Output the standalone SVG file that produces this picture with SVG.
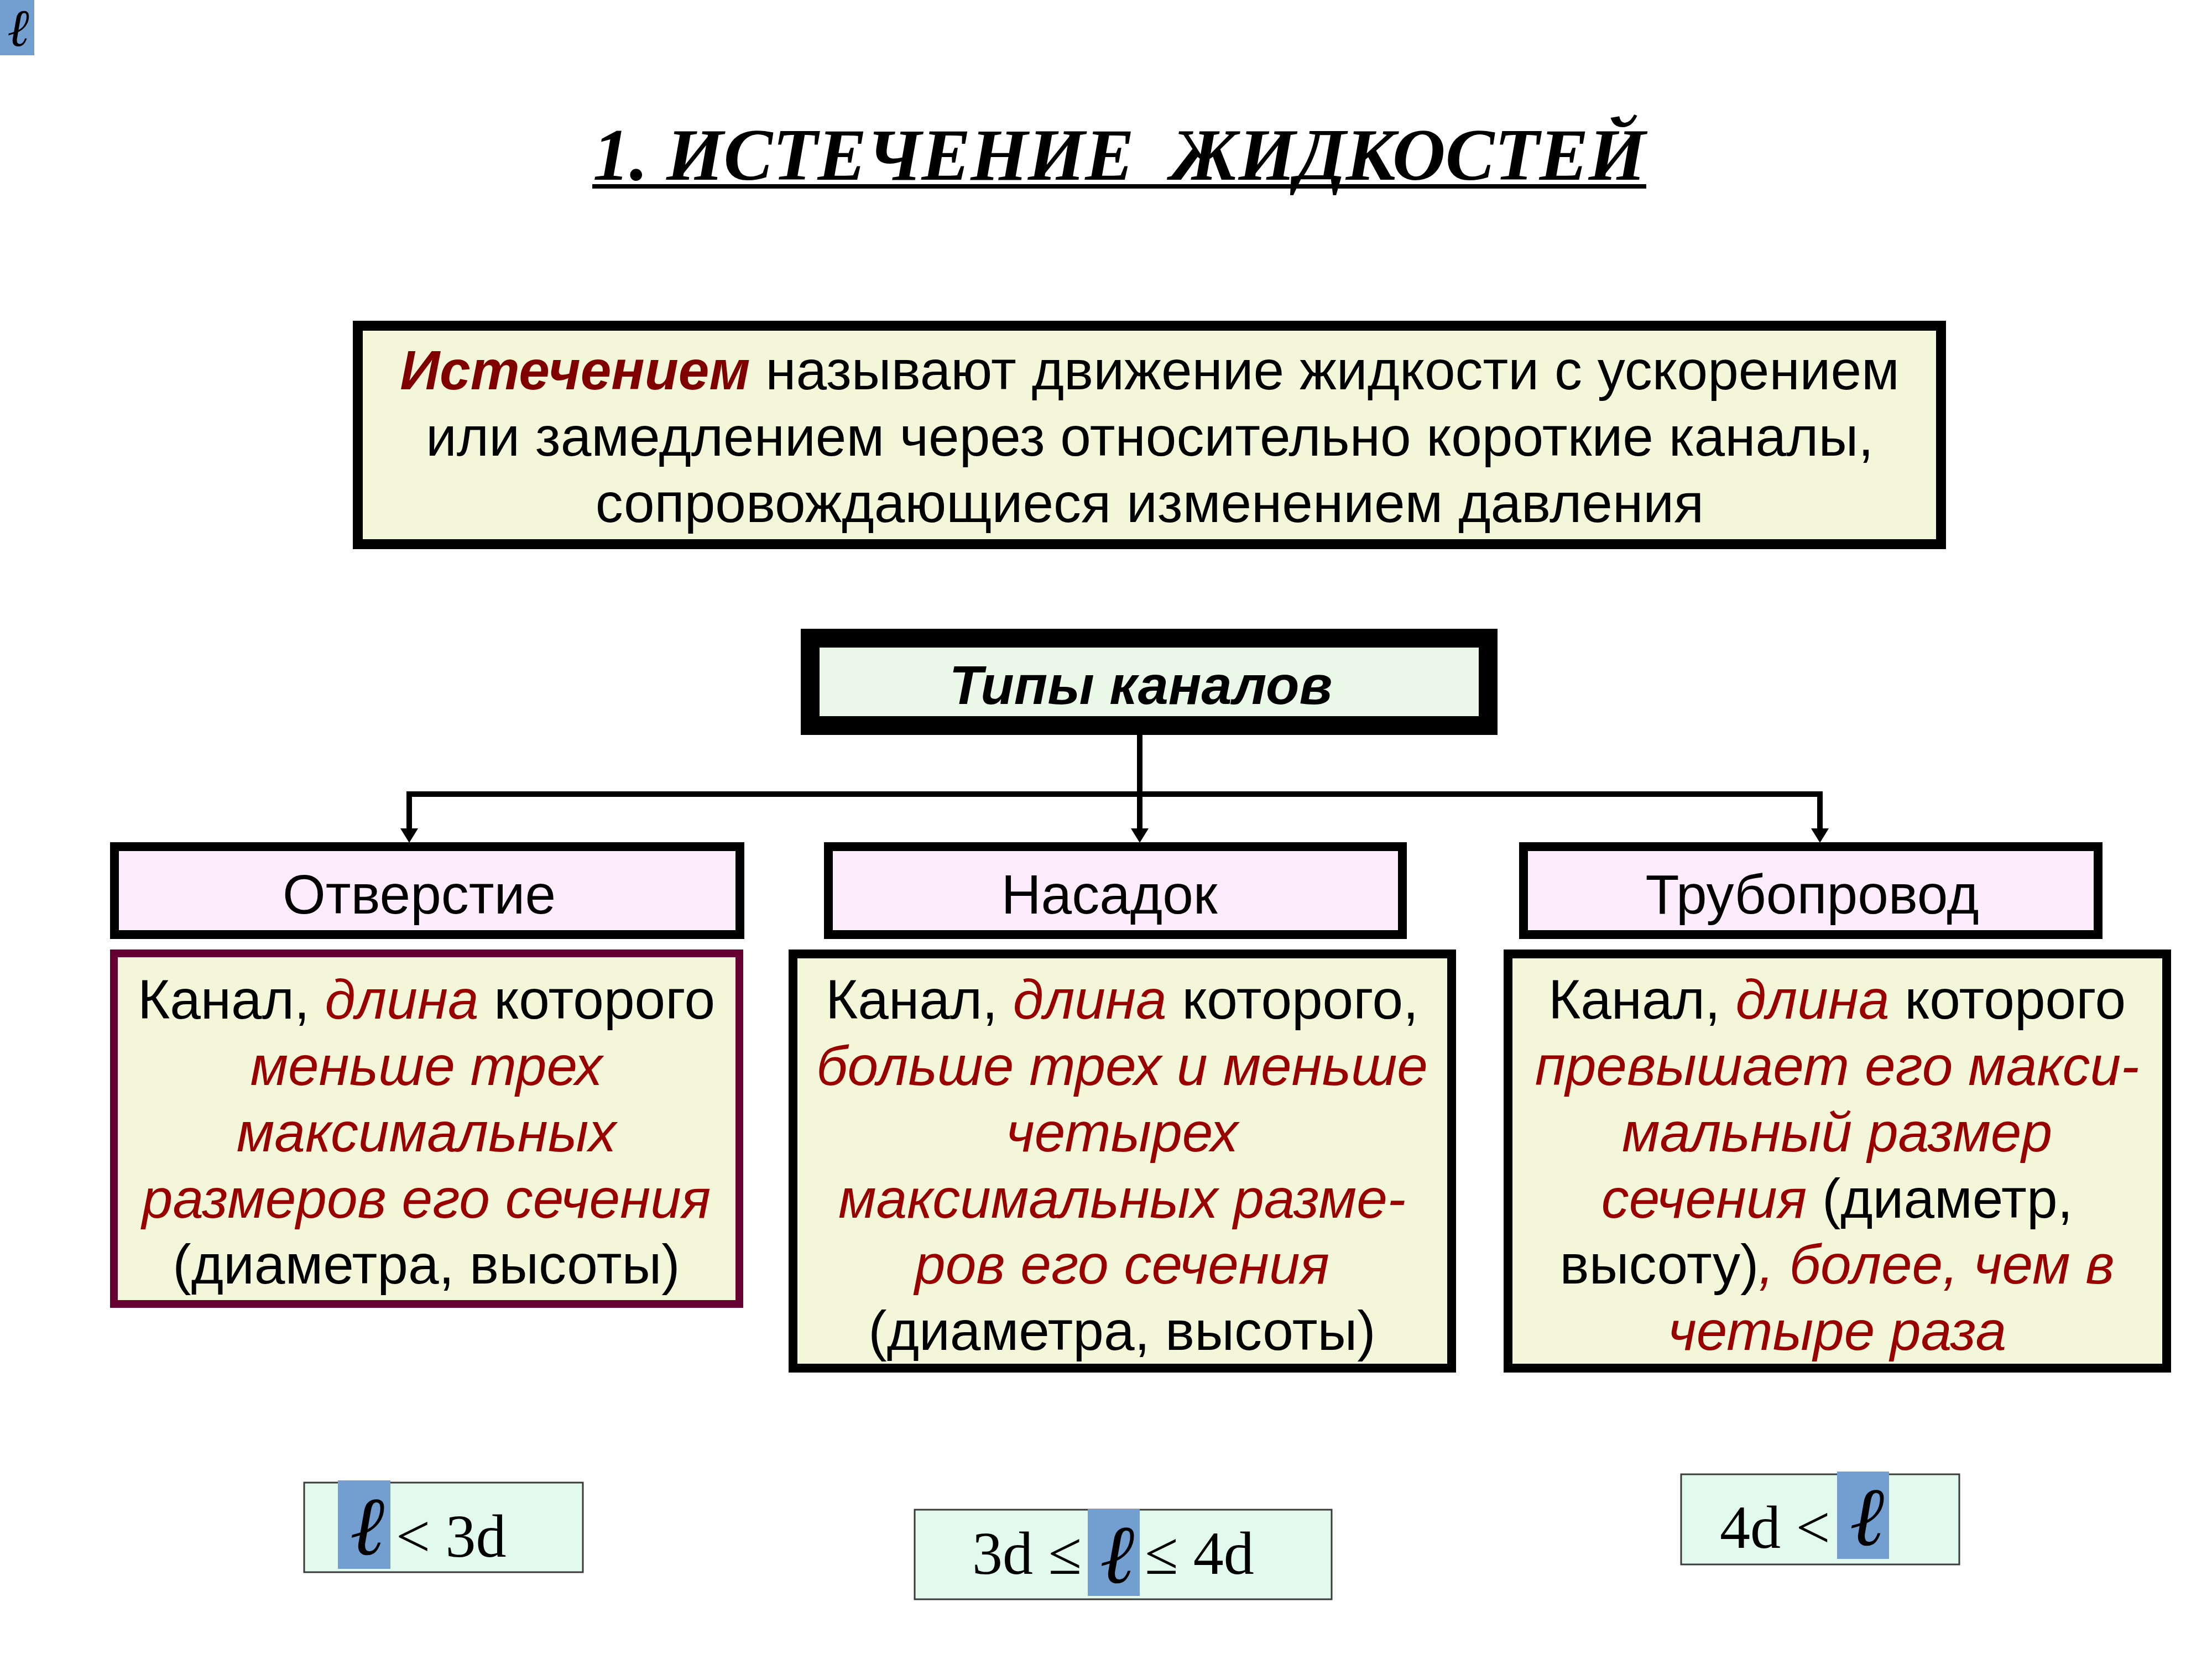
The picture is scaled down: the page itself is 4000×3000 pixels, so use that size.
<svg xmlns="http://www.w3.org/2000/svg" width="4000" height="3000" viewBox="0 0 4000 3000">
<style>
.sans{font-family:"Liberation Sans",Arial,sans-serif;}
.serif{font-family:"Liberation Serif","Times New Roman",serif;}
.t100{font-size:100px;}
.red{fill:#990000;font-style:italic;}
.hdr{fill:#fdedfc;stroke:#000;stroke-width:16;}
.desc{fill:#f3f6d8;stroke:#000;stroke-width:16;}
.descm{fill:#f3f6d8;stroke:#660033;stroke-width:14;}
.fbox{fill:#e2f9ee;stroke:#3a3a3a;stroke-width:3;}
.hl{fill:#729fcf;}
.ell{font-family:"DejaVu Serif","Liberation Serif",serif;font-style:italic;font-weight:normal;fill:#000;}
.conn{stroke:#000;stroke-width:10;fill:none;}
</style>
<defs>
<marker id="arr" markerUnits="userSpaceOnUse" viewBox="0 0 26 32" markerWidth="26" markerHeight="32" refX="0" refY="16" orient="auto">
<path d="M0,0 L26,16 L0,32 Z" fill="#000"/>
</marker>
</defs>
<rect width="4000" height="3000" fill="#ffffff"/>

<g id="ell-corner">
<rect class="hl" x="0" y="0" width="62" height="100"/>
<text class="ell" x="33" y="83" font-size="95" text-anchor="middle">ℓ</text>
</g>

<g id="title">
<text class="serif" x="2024" y="325" font-size="133" font-weight="bold" font-style="italic" text-anchor="middle" style="white-space:pre">1. ИСТЕЧЕНИЕ  ЖИДКОСТЕЙ</text>
<rect x="1071" y="333" width="1906" height="8" fill="#000"/>
</g>

<g id="definition">
<rect x="647" y="589" width="2863" height="395" fill="#f3f6d8" stroke="#000" stroke-width="18"/>
<text class="sans t100" x="2079" y="704" text-anchor="middle"><tspan fill="#800000" font-weight="bold" font-style="italic">Истечением</tspan> называют движение жидкости с ускорением</text>
<text class="sans t100" x="2079" y="824" text-anchor="middle">или замедлением через относительно короткие каналы,</text>
<text class="sans t100" x="2079" y="944" text-anchor="middle">сопровождающиеся изменением давления</text>
</g>

<g id="types">
<rect x="1465" y="1154" width="1226" height="158" fill="#e9f8e7" stroke="#000" stroke-width="34"/>
<text class="sans" x="2063" y="1273" font-size="99" font-weight="bold" font-style="italic" text-anchor="middle">Типы каналов</text>
</g>

<g id="connectors">
<path class="conn" d="M2061,1329 V1436"/>
<path class="conn" d="M740,1436 H3291"/>
<path class="conn" d="M740,1431 V1498" marker-end="url(#arr)"/>
<path class="conn" d="M2061,1436 V1498" marker-end="url(#arr)"/>
<path class="conn" d="M3291,1431 V1498" marker-end="url(#arr)"/>
</g>

<g id="otverstie">
<rect class="hdr" x="207" y="1531" width="1131" height="159"/>
<text class="sans t100" x="758" y="1652" text-anchor="middle">Отверстие</text>
</g>

<g id="nasadok">
<rect class="hdr" x="1498" y="1531" width="1038" height="159"/>
<text class="sans t100" x="2006" y="1652" text-anchor="middle">Насадок</text>
</g>

<g id="truboprovod">
<rect class="hdr" x="2755" y="1531" width="1039" height="159"/>
<text class="sans t100" x="3277" y="1652" text-anchor="middle">Трубопровод</text>
</g>

<g id="desc-otverstie">
<rect class="descm" x="206" y="1724" width="1131" height="634"/>
<g class="sans t100" text-anchor="middle">
<text x="771" y="1842">Канал, <tspan class="red">длина</tspan> которого</text>
<text x="771" y="1962" class="red">меньше трех</text>
<text x="771" y="2082" class="red">максимальных</text>
<text x="771" y="2202" class="red">размеров его сечения</text>
<text x="771" y="2321">(диаметра, высоты)</text>
</g>
</g>

<g id="desc-nasadok">
<rect class="desc" x="1434" y="1725" width="1191" height="749"/>
<g class="sans t100" text-anchor="middle">
<text x="2029" y="1842">Канал, <tspan class="red">длина</tspan> которого,</text>
<text x="2029" y="1962" class="red">больше трех и меньше</text>
<text x="2029" y="2082" class="red">четырех</text>
<text x="2029" y="2202" class="red">максимальных разме-</text>
<text x="2029" y="2321" class="red">ров его сечения</text>
<text x="2029" y="2441">(диаметра, высоты)</text>
</g>
</g>

<g id="desc-truboprovod">
<rect class="desc" x="2727" y="1725" width="1191" height="749"/>
<g class="sans t100" text-anchor="middle">
<text x="3322" y="1842">Канал, <tspan class="red">длина</tspan> которого</text>
<text x="3322" y="1962" class="red">превышает его макси-</text>
<text x="3322" y="2082" class="red">мальный размер</text>
<text x="3322" y="2202"><tspan class="red">сечения</tspan> (диаметр,</text>
<text x="3322" y="2321">высоту)<tspan class="red">, более, чем в</tspan></text>
<text x="3322" y="2441" class="red">четыре раза</text>
</g>
</g>

<g id="formula-1">
<rect class="fbox" x="550" y="2681" width="504" height="162"/>
<rect class="hl" x="611" y="2677" width="95" height="160"/>
<text class="ell" x="664" y="2811" font-size="150" text-anchor="middle">ℓ</text>
<text class="serif" x="716" y="2815" font-size="110" style="white-space:pre">&lt; 3d</text>
</g>

<g id="formula-2">
<rect class="fbox" x="1654" y="2730" width="754" height="162"/>
<rect class="hl" x="1967" y="2729" width="94" height="157"/>
<text class="ell" x="2020" y="2862" font-size="150" text-anchor="middle">ℓ</text>
<text class="serif" x="1758" y="2846" font-size="110" style="white-space:pre">3d ≤</text>
<text class="serif" x="2070" y="2846" font-size="110" style="white-space:pre">≤ 4d</text>
</g>

<g id="formula-3">
<rect class="fbox" x="3040" y="2666" width="503" height="163"/>
<rect class="hl" x="3322" y="2661" width="94" height="158"/>
<text class="ell" x="3376" y="2794" font-size="150" text-anchor="middle">ℓ</text>
<text class="serif" x="3110" y="2799" font-size="110" style="white-space:pre">4d &lt;</text>
</g>
</svg>
